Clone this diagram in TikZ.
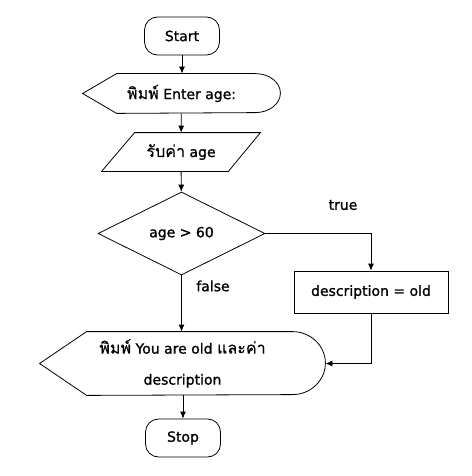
\documentclass[tikz,border=0pt]{standalone}
\usepackage{fontspec}
\setmainfont[FakeBold=1.2]{DejaVu Sans}
\newfontfamily\thaifont[Script=Thai,Scale=1.15,FakeBold=0.4]{Loma}
\usetikzlibrary{arrows.meta,shapes.geometric}

\tikzset{
  every picture/.style={x=1pt,y=1pt,line width=0.8pt},
  base/.style={inner sep=0pt,font=\fontsize{14}{31}\selectfont,align=center},
  terminal/.style={base,draw,rounded corners=13pt,minimum width=75pt,minimum height=38pt},
  showbox/.style={base},
  readbox/.style={base},
  decision/.style={base,draw,diamond,aspect=2,minimum width=167pt,minimum height=83pt},
  process/.style={base,draw,minimum width=154pt,minimum height=42pt},
  arrow/.style={-{Latex[length=7pt,width=6pt]}}
}

\begin{document}
\begin{tikzpicture}
        \useasboundingbox (0,0) rectangle (471,-476);
        % define nodes
        \node[terminal] (start) at (182,-36) {Start};
        \node[showbox,minimum width=197pt,minimum height=39pt] (show1) at (181.5,-93.5) {{\thaifont พิมพ์} Enter age:};
        \node[readbox,minimum width=158pt,minimum height=38pt] (read) at (181,-152) {{\thaifont รับค่า} age};
        \node[decision] (cond) at (181.5,-233.5) {age > 60};
        \node[process] (desc) at (371,-292) {description = old};
        \node[showbox,minimum width=285pt,minimum height=63pt] (show2) at (182.5,-363.5) {{\thaifont พิมพ์} You are old {\thaifont และค่า}\\description};
        \node[terminal] (stop) at (183,-438) {Stop};
        % shapes
        \draw (show1.west) -- ([xshift=34pt]show1.north west) -- ([xshift=-25pt]show1.north east)
              arc[start angle=90,end angle=-90,x radius=25pt,y radius=19.5pt] -- ([xshift=34pt]show1.south west) -- cycle;
        \draw ([xshift=33pt]read.north west) -- (read.north east) -- ([xshift=-32pt]read.south east) -- (read.south west) -- cycle;
        \draw (show2.west) -- ([xshift=47pt]show2.north west) -- ([xshift=-33pt]show2.north east)
              arc[start angle=90,end angle=-90,x radius=33pt,y radius=31.5pt] -- ([xshift=47pt]show2.south west) -- cycle;
        % arrows
        \draw[arrow] (start) -- (start |- show1.north);
        \draw[arrow] (show1) -- (read);
        \draw[arrow] (read) -- (cond);
        \draw[arrow] (cond.east) -| (desc.north);
        \draw[arrow] (cond.south) -- (cond.south |- show2.north);
        \draw[arrow] (desc.south) |- (show2.east);
        \draw[arrow] (show2.south -| stop) -- (stop);
        % labels
        \node[base] (lbltrue) at (343,-205) {true};
        \node[base] (lblfalse) at (213,-286) {false};
    \end{tikzpicture}
\end{document}
